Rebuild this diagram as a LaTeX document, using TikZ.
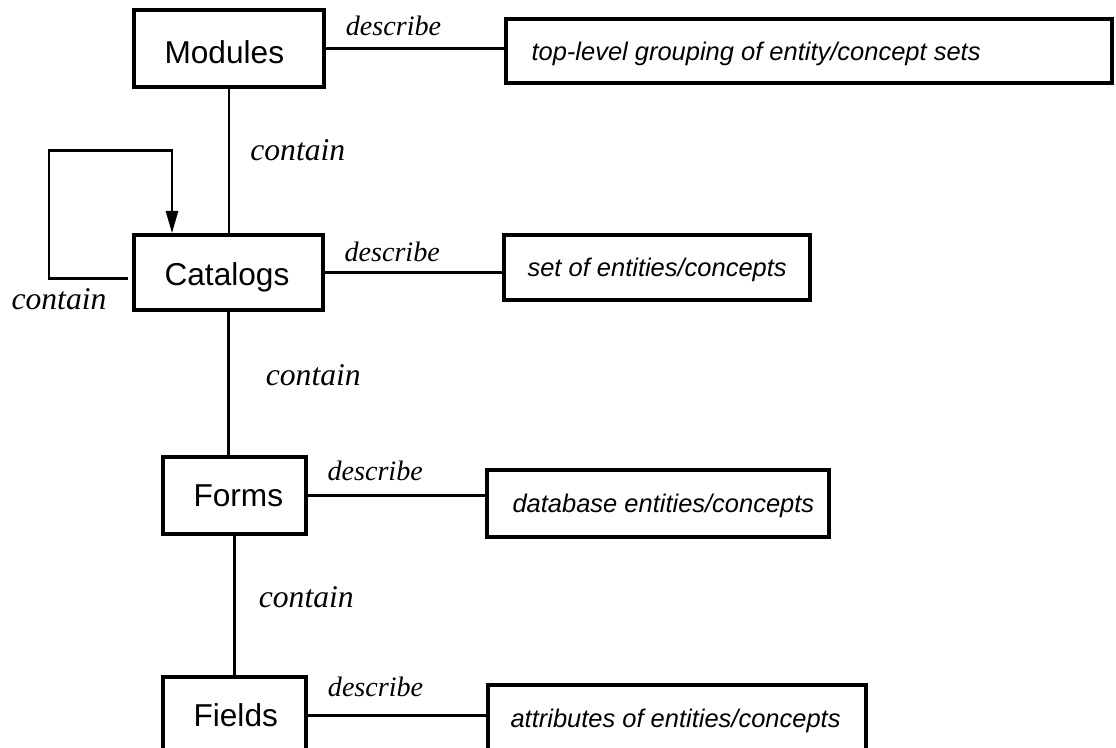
\documentclass[tikz,border=0pt]{standalone}
\usepackage{fontspec}
\setmainfont{Liberation Serif}
\setsansfont{Liberation Sans}
\usetikzlibrary{fit,positioning,calc,arrows.meta}

\tikzset{
  entity/.style={draw, line width=1.9pt, inner sep=0pt},
  entitytext/.style={anchor=west, text height=13pt, text depth=0pt,
    font=\sffamily\fontsize{18}{21}\selectfont},
  desctext/.style={anchor=west, text height=10.4pt, text depth=0pt,
    font=\sffamily\itshape\fontsize{14.5}{17}\selectfont},
  link/.style={line width=1.7pt},
  describelbl/.style={font=\itshape\fontsize{16}{19}\selectfont},
  containlbl/.style={font=\itshape\fontsize{18}{21}\selectfont},
}

\begin{document}
\begin{tikzpicture}
    \useasboundingbox (0,0) rectangle (22.32,14.96);

    \node[fit={(2.68,13.22) (6.48,14.76)}, entity] (modules) {};
    \node[entitytext, yshift=-0.08cm] at ([xshift=0.52cm]modules.west) {Modules};
    \node[fit={(10.12,13.30) (22.24,14.58)}, entity] (toplevel) {};
    \node[desctext] at ([xshift=0.42cm]toplevel.west) {top-level grouping of entity/concept sets};

    \node[fit={(2.68,8.76) (6.46,10.26)}, entity] (catalogs) {};
    \node[entitytext, yshift=-0.04cm] at ([xshift=0.52cm]catalogs.west) {Catalogs};
    \node[fit={(10.08,8.96) (16.20,10.26)}, entity] (entityset) {};
    \node[desctext] at ([xshift=0.38cm]entityset.west) {set of entities/concepts};

    \node[fit={(3.26,4.28) (6.12,5.82)}, entity] (forms) {};
    \node[entitytext] at ([xshift=0.52cm]forms.west) {Forms};
    \node[fit={(9.74,4.22) (16.58,5.56)}, entity] (dbentity) {};
    \node[desctext] at ([xshift=0.42cm]dbentity.west) {database entities/concepts};

    \node[fit={(3.26,-0.12) (6.12,1.42)}, entity] (fields) {};
    \node[entitytext] at ([xshift=0.52cm]fields.west) {Fields};
    \node[fit={(9.76,-0.08) (17.32,1.26)}, entity] (attribs) {};
    \node[desctext] at ([xshift=0.36cm]attribs.west) {attributes of entities/concepts};

    % describe links
    \draw[link] (modules.east) -- (modules.east -| toplevel.west)
    node[pos=0.38, above=0.11cm, describelbl] {describe};
    \draw[link] (catalogs.east) -- (catalogs.east -| entityset.west)
    node[pos=0.38, above=0.07cm, describelbl] {describe};
    \draw[link] (forms.east) -- (forms.east -| dbentity.west)
    node[pos=0.38, above=0.15cm, describelbl] {describe};
    \draw[link] (fields.east) -- (fields.east -| attribs.west)
    node[pos=0.38, above=0.23cm, describelbl] {describe};

    % contain links
    \draw[link] (modules.south) -- (modules.south |- catalogs.north)
    node[midway, right=0.28cm, yshift=0.22cm, containlbl] {contain};
    \draw[link] (catalogs.south) -- (catalogs.south |- forms.north)
    node[midway, right=0.6cm, yshift=0.16cm, containlbl] {contain};
    \draw[link] (forms.south) -- (forms.south |- fields.north)
    node[midway, right=0.34cm, yshift=0.17cm, containlbl] {contain};

    \coordinate (loopcorner) at (0.98,11.94);
    \draw[link, -{Triangle[length=0.45cm,width=0.24cm]}]
    ([xshift=-0.08cm, yshift=-0.13cm]catalogs.west) -| (loopcorner)
    node[pos=0.5, below, xshift=0.2cm, yshift=-0.05cm, containlbl] {contain}
    -| ([xshift=-1.13cm]catalogs.north);
\end{tikzpicture}
\end{document}
